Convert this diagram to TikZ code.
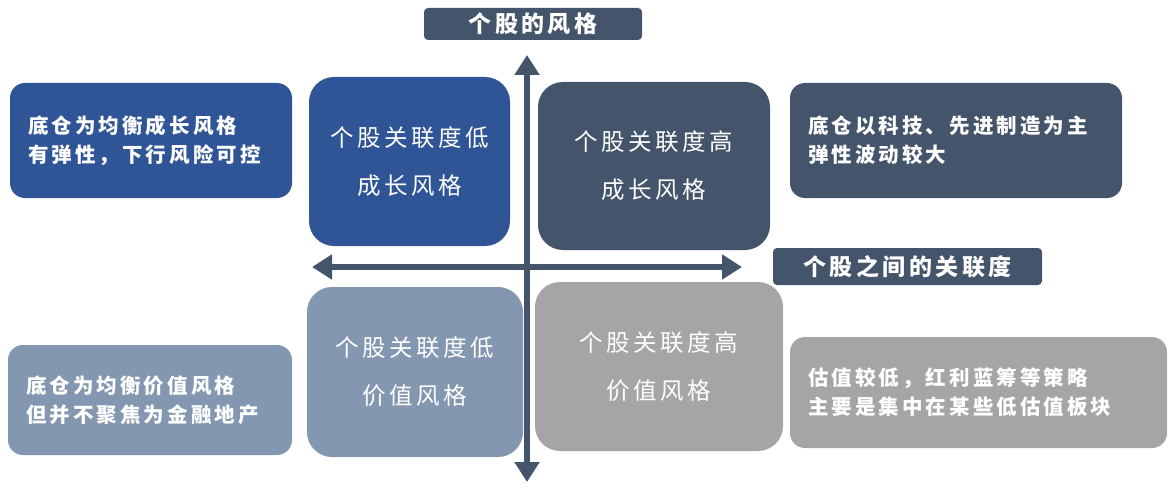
\documentclass[tikz,border=0pt]{standalone}
\usepackage{fontspec}
\setmainfont[LetterSpace=15]{Noto Sans CJK SC}
\usetikzlibrary{arrows.meta}
\definecolor{growblue}{HTML}{2F5597}
\definecolor{slate}{HTML}{44546A}
\definecolor{valueblue}{HTML}{8497B0}
\definecolor{valuegray}{HTML}{A5A5A5}

\begin{document}
\begin{tikzpicture}[x=1pt, y=-1pt,
  quad/.style={rectangle, rounded corners=25pt, text=white, inner sep=0pt, align=center,
               font=\fontsize{23.5}{48}\selectfont},
  note/.style={rectangle, rounded corners=15pt, text=white, inner ysep=0pt, inner xsep=18pt, align=left,
               font=\bfseries\fontsize{20.5}{29}\selectfont},
  axislabel/.style={rectangle, rounded corners=4pt, fill=slate, text=white, inner sep=0pt,
               font=\bfseries\fontsize{23}{28}\selectfont},
  axis/.style={draw=slate, line width=6pt, {Triangle[width=24pt,length=20pt]}-{Triangle[width=24pt,length=20pt]}}]
\useasboundingbox (0,0) rectangle (1170,492);

% quadrants
\node[quad, fill=growblue, minimum width=201pt, minimum height=169pt] (growlow) at (409.5,161.5) {个股关联度低\\成长风格};
\node[quad, fill=slate, minimum width=232pt, minimum height=168pt] (growhigh) at (654,166) {个股关联度高\\成长风格};
\node[quad, fill=valueblue, minimum width=216pt, minimum height=170pt] (valuelow) at (415,372) {个股关联度低\\价值风格};
\node[quad, fill=valuegray, minimum width=248pt, minimum height=169pt] (valuehigh) at (659,366.5) {个股关联度高\\价值风格};

% side notes
\node[note, fill=growblue, text width=246pt, minimum height=115pt] (growlownote) at (151,140.5) {底仓为均衡成长风格\\有弹性，下行风险可控};
\node[note, fill=slate, text width=296pt, minimum height=115pt] (growhighnote) at (956,140.5) {底仓以科技、先进制造为主\\弹性波动较大};
\node[note, fill=valueblue, text width=248pt, minimum height=110pt] (valuelownote) at (150,400) {底仓为均衡价值风格\\但并不聚焦为金融地产};
\node[note, fill=valuegray, text width=341pt, minimum height=111pt] (valuehighnote) at (978.5,392.5) {估值较低，红利蓝筹等策略\\主要是集中在某些低估值板块};

% axes
\coordinate (ytop) at (527,55);
\coordinate (ybot) at (527,482);
\coordinate (xleft) at (312,267);
\coordinate (xright) at (742,267);
\draw[axis] (xleft) -- (xright);
\draw[axis] (ybot) -- (ytop);

\node[axislabel, minimum width=218pt, minimum height=32pt] (ylabel) at (533,24) {个股的风格};
\node[axislabel, minimum width=269pt, minimum height=37pt] (xlabel) at (907.5,266.5) {个股之间的关联度};
%--------end axes----
\end{tikzpicture}
\end{document}
